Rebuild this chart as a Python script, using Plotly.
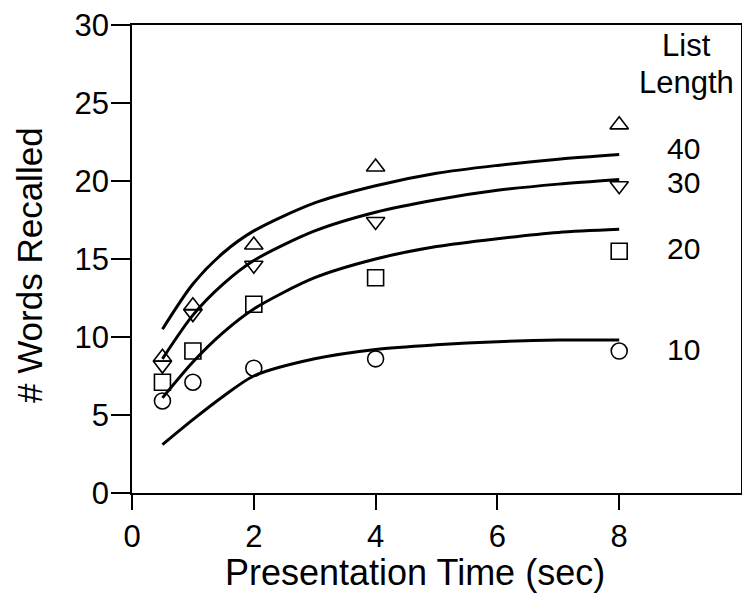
import plotly.graph_objects as go

# Presentation times (sec)
times = [0.5, 1, 2, 4, 8]

# Observed data (# words recalled) by list length
obs_10 = [5.9, 7.1, 8.0, 8.6, 9.1]
obs_20 = [7.1, 9.1, 12.1, 13.8, 15.5]
obs_30 = [8.2, 11.5, 14.6, 17.4, 19.7]
obs_40 = [8.7, 12.0, 15.9, 20.9, 23.6]

# Model curves
curve_x = [0.5, 1, 1.5, 2, 3, 4, 5, 6, 7, 8]
curve_10 = [3.1, 4.7, 6.2, 7.5, 8.6, 9.2, 9.5, 9.7, 9.8, 9.8]
curve_20 = [6.1, 8.4, 10.3, 11.8, 13.8, 15.0, 15.8, 16.3, 16.7, 16.9]
curve_30 = [8.6, 11.4, 13.4, 14.9, 16.8, 18.0, 18.8, 19.4, 19.8, 20.1]
curve_40 = [10.5, 13.4, 15.4, 16.8, 18.6, 19.7, 20.5, 21.0, 21.4, 21.7]

list_labels = ["10", "20", "30", "40"]
label_y = [9.2, 15.7, 19.9, 22.1]

x_ticks = [0, 2, 4, 6, 8]
y_ticks = [0, 5, 10, 15, 20, 25, 30]

FONT = "Liberation Sans, Arial, sans-serif"

# plot area in page pixels (page has an 8px body margin)
PL, PR, PT, PB = 132, 741, 25, 493
PW, PH = PR - PL, PB - PT

fig = go.Figure()

for cy in [curve_10, curve_20, curve_30, curve_40]:
    fig.add_trace(go.Scatter(
        x=curve_x, y=cy, mode="lines",
        line=dict(color="black", width=3, shape="spline", smoothing=0.8),
        showlegend=False, hoverinfo="skip"))

symbols = ["circle-open", "square-open", "triangle-down-open", "triangle-up-open"]
for sym, oy in zip(symbols, [obs_10, obs_20, obs_30, obs_40]):
    fig.add_trace(go.Scatter(
        x=times, y=oy, mode="markers",
        marker=dict(symbol=sym, size=16, color="black", line=dict(color="black", width=1.6)),
        showlegend=False))

for lab, ly in zip(list_labels, label_y):
    fig.add_annotation(x=9.06, y=ly, text=lab, showarrow=False,
                       font=dict(family=FONT, size=30, color="black"),
                       xanchor="center", yanchor="middle")

fig.add_annotation(x=9.1, y=28.7, text="List", showarrow=False,
                   font=dict(family=FONT, size=31, color="black"),
                   xanchor="center", yanchor="middle")
fig.add_annotation(x=9.1, y=26.3, text="Length", showarrow=False,
                   font=dict(family=FONT, size=31, color="black"),
                   xanchor="center", yanchor="middle")

# Axis titles
fig.add_annotation(x=(415 - PL) / PW, y=(PB - 572) / PH, xref="paper", yref="paper",
                   text="Presentation Time (sec)",
                   showarrow=False, font=dict(family=FONT, size=36, color="black"),
                   xanchor="center", yanchor="middle")
fig.add_annotation(x=(29 - PL) / PW, y=(PB - 265) / PH, xref="paper", yref="paper",
                   text="# Words Recalled", textangle=-90,
                   showarrow=False, font=dict(family=FONT, size=35, color="black"),
                   xanchor="center", yanchor="middle")

fig.update_xaxes(
    range=[0, 10], tickvals=x_ticks, ticktext=[str(t) for t in x_ticks],
    showgrid=False, zeroline=False, showline=True, linecolor="black", linewidth=1.5,
    mirror=True, ticks="outside", ticklen=15, tickwidth=1.5, tickcolor="black",
    tickfont=dict(family=FONT, size=31, color="black"), automargin=False,
    ticklabeloverflow="allow")
fig.update_yaxes(
    range=[0, 30], tickvals=y_ticks, ticktext=[str(t) for t in y_ticks],
    showgrid=False, zeroline=False, showline=True, linecolor="black", linewidth=1.5,
    mirror=True, ticks="outside", ticklen=19, tickwidth=1.5, tickcolor="black",
    tickfont=dict(family=FONT, size=31, color="black"), automargin=False,
    ticklabeloverflow="allow", ticklabelstandoff=-4)

W, H = 742, 595
fig.update_layout(
    width=W, height=H,
    margin=dict(l=PL - 8, r=W - (PR - 8), t=PT - 8, b=H - (PB - 8)),
    paper_bgcolor="white", plot_bgcolor="white",
)

fig.write_html("out.html")
